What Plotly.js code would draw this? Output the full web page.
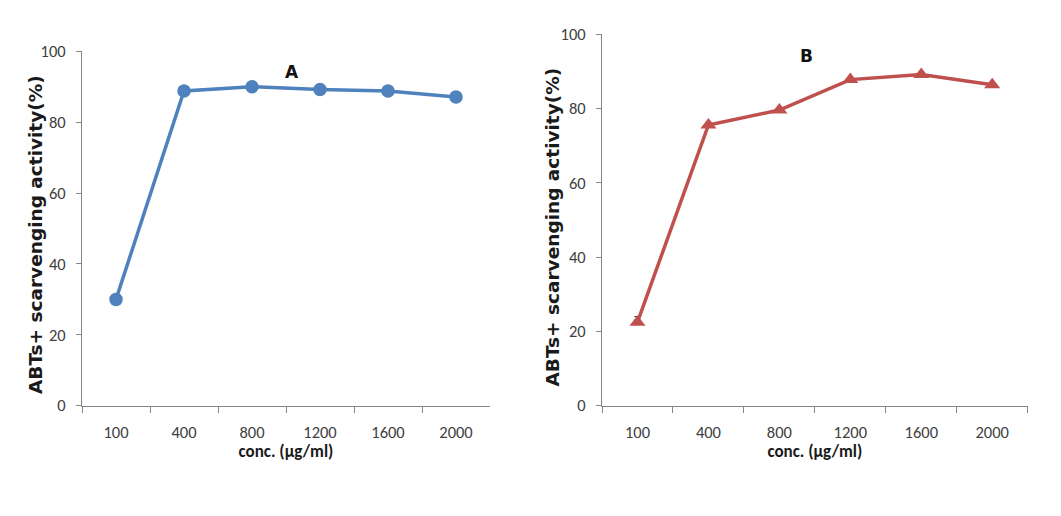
<!DOCTYPE html>
<html>
<head>
<meta charset="utf-8">
<script src="https://cdn.plot.ly/plotly-3.0.1.min.js"></script>
<style>html,body{margin:0;padding:0;background:#fff;}#chart{width:1061px;height:516px;}</style>
</head>
<body>
<div id="chart"></div>
<script>
const categories = ["100", "400", "800", "1200", "1600", "2000"];
const seriesA = [30.0, 88.8, 90.0, 89.2, 88.8, 87.1];
const seriesB = [22.5, 75.6, 79.6, 87.8, 89.2, 86.4];
const errorBPlus = [1.5, 0, 0, 0, 0, 0];
const errorBMinus = [0, 0, 0, 0, 0, 0];
const yTitle = "ABTs+ scarvenging activity(%)";
const xTitle = "conc. (μg/ml)";
const panelLabels = ["A", "B"];

const tickFont = {family: "Carlito, 'Liberation Sans Narrow', 'Liberation Sans', sans-serif", size: 16.5, color: "#404040"};
const yTitleFont = {family: "'DejaVu Sans', Verdana, sans-serif", size: 18.5, color: "#1a1a1a", weight: "bold"};
const xTitleFont = {family: "Carlito, 'Liberation Sans Narrow', sans-serif", size: 17, color: "#1a1a1a", weight: "bold"};

const traces = [
  {x: categories, y: seriesA, xaxis: "x", yaxis: "y", type: "scatter", mode: "lines+markers",
   line: {color: "#4F81BD", width: 3.5}, marker: {color: "#4F81BD", size: 13.5, symbol: "circle"}, showlegend: false},
  {x: categories, y: seriesB, xaxis: "x2", yaxis: "y2", type: "scatter", mode: "lines+markers",
   line: {color: "#C0504D", width: 3.5}, marker: {color: "#C0504D", size: 14, symbol: "triangle-up"},
   error_y: {type: "data", symmetric: false, array: errorBPlus, arrayminus: errorBMinus, visible: true,
             color: "#222", thickness: 1, width: 3},
   showlegend: false}
];

function xax(domain, anchor) {
  return {domain: domain, anchor: anchor, type: "category", range: [-0.5, 5.5],
    showline: true, linecolor: "#868686", linewidth: 1, ticks: "outside", tickson: "boundaries",
    ticklen: 6, tickcolor: "#868686", showgrid: false, zeroline: false,
    tickfont: tickFont, ticklabelstandoff: 11,
    title: {text: xTitle, font: xTitleFont, standoff: 4}};
}
function yax(domain, anchor) {
  return {domain: domain, anchor: anchor, range: [0, 100], dtick: 20,
    showline: true, linecolor: "#868686", linewidth: 1, ticks: "outside", ticklen: 5, tickcolor: "#868686",
    showgrid: false, zeroline: false, tickfont: tickFont, ticklabelstandoff: 7};
}

const W = 1061, H = 516;
const layout = {
  width: W, height: H, margin: {l: 0, r: 0, t: 0, b: 0},
  paper_bgcolor: "#fff", plot_bgcolor: "#fff", showlegend: false,
  xaxis: xax([82 / W, 490 / W], "y"),
  yaxis: yax([(H - 405.7) / H, (H - 51.3) / H], "x"),
  xaxis2: xax([602 / W, 1027.7 / W], "y2"),
  yaxis2: yax([(H - 405.7) / H, (H - 34.3) / H], "x2"),
  annotations: [
    {text: panelLabels[0], xref: "paper", yref: "paper", x: 283 / W, y: (H - 60) / H, showarrow: false,
     font: {family: "'DejaVu Sans', sans-serif", size: 17, color: "#111", weight: "bold"}},
    {text: panelLabels[1], xref: "paper", yref: "paper", x: 815 / W, y: (H - 44) / H, showarrow: false,
     font: {family: "'DejaVu Sans', sans-serif", size: 17, color: "#111", weight: "bold"}},
    {text: yTitle, xref: "paper", yref: "paper", x: 35 / W, y: (H - 235) / H, textangle: -90,
     showarrow: false, xanchor: "center", yanchor: "middle", font: yTitleFont},
    {text: yTitle, xref: "paper", yref: "paper", x: 552 / W, y: (H - 227.5) / H, textangle: -90,
     showarrow: false, xanchor: "center", yanchor: "middle", font: yTitleFont}
  ]
};
Plotly.newPlot("chart", traces, layout, {displayModeBar: false, staticPlot: true});
</script>
</body>
</html>
